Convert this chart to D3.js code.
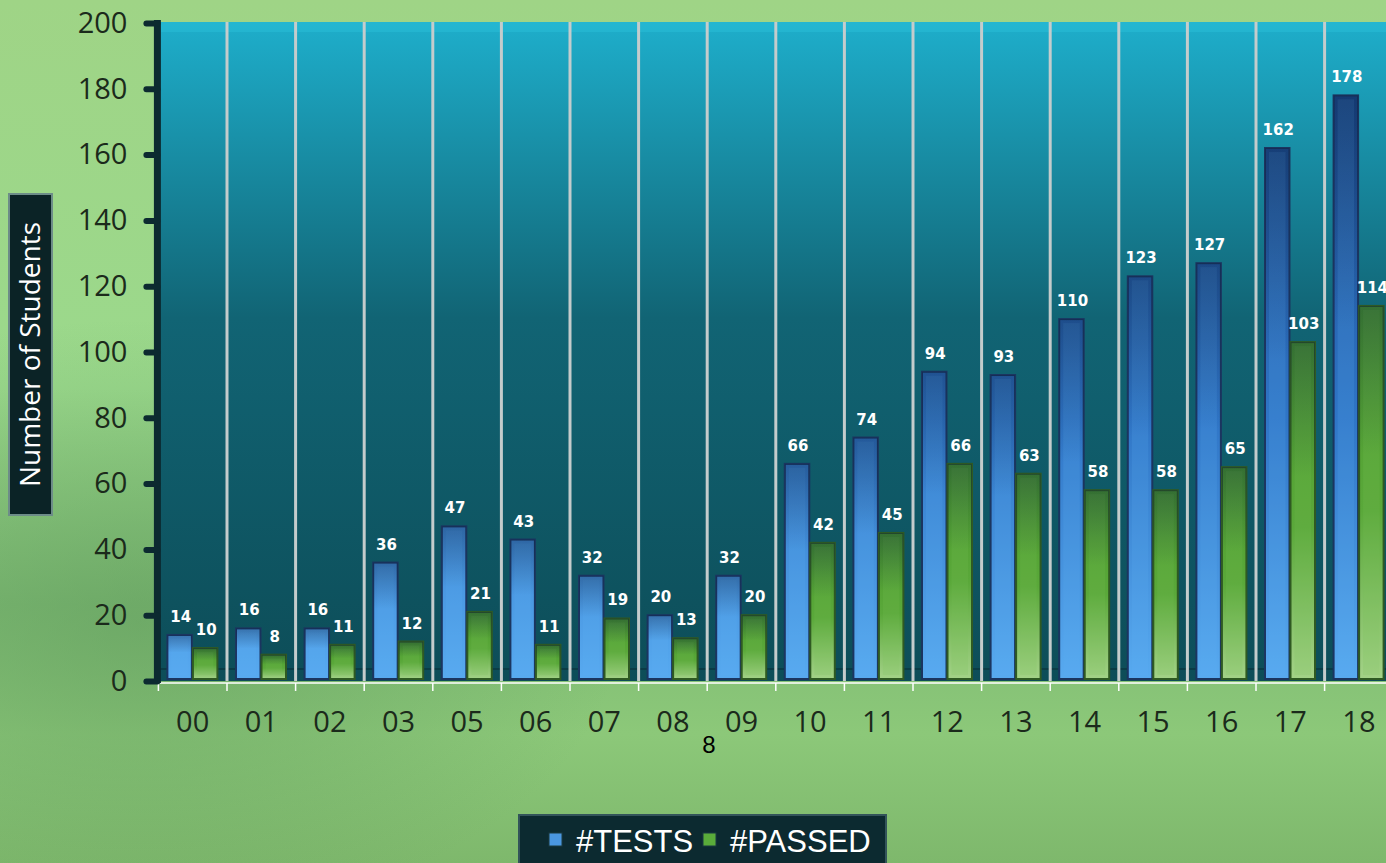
<!DOCTYPE html>
<html>
<head>
<meta charset="utf-8">
<script src="https://cdn.jsdelivr.net/npm/d3@7"></script>
<style>
  body { margin: 0; overflow: hidden; }
  svg { display: block; }
</style>
</head>
<body>
<svg id="chart" width="1386" height="863"></svg>
<script>
// data
const years = ['00', '01', '02', '03', '05', '06', '07', '08', '09', '10', '11', '12', '13', '14', '15', '16', '17', '18'];
const tests = [14, 16, 16, 36, 47, 43, 32, 20, 32, 66, 74, 94, 93, 110, 123, 127, 162, 178];
const passed = [10, 8, 11, 12, 21, 11, 19, 13, 20, 42, 45, 66, 63, 58, 58, 65, 103, 114];
const yTicks = [0, 20, 40, 60, 80, 100, 120, 140, 160, 180, 200];
const seriesNames = ['#TESTS', '#PASSED'];

const svg = d3.select('#chart');
const W = 1386, H = 863;
const defs = svg.append('defs');

// page background
const bg = defs.append('linearGradient').attr('id', 'bg').attr('x1', 0).attr('y1', 0).attr('x2', 0).attr('y2', 1);
bg.append('stop').attr('offset', '0%').attr('stop-color', '#9fd486');
bg.append('stop').attr('offset', '45%').attr('stop-color', '#9bd98c');
bg.append('stop').attr('offset', '70%').attr('stop-color', '#7fbc74');
bg.append('stop').attr('offset', '85%').attr('stop-color', '#8cc879');
bg.append('stop').attr('offset', '100%').attr('stop-color', '#7eb86c');
svg.append('rect').attr('width', W).attr('height', H).attr('fill', 'url(#bg)');
const blot = defs.append('radialGradient').attr('id', 'blot').attr('cx', 0.1).attr('cy', 0.72).attr('r', 0.35);
blot.append('stop').attr('offset', '0%').attr('stop-color', '#5f9a5c').attr('stop-opacity', 0.55);
blot.append('stop').attr('offset', '100%').attr('stop-color', '#5f9a5c').attr('stop-opacity', 0);
svg.append('rect').attr('width', W).attr('height', H).attr('fill', 'url(#blot)');

// scales
const x = d3.scaleBand().domain(years).range([158.4, 158.4 + 18 * 68.6]);
const x1 = d3.scaleBand().domain(seriesNames).range([9, 59]).paddingInner(0.04);
const y = d3.scaleLinear().domain([0, 200]).range([681, 23]);

const left = x.range()[0];
const right = x.range()[1];

// plot background
const plotGrad = defs.append('linearGradient').attr('id', 'plotGrad').attr('x1', 0).attr('y1', 0).attr('x2', 0).attr('y2', 1);
plotGrad.append('stop').attr('offset', '0%').attr('stop-color', '#1eaecb');
plotGrad.append('stop').attr('offset', '45%').attr('stop-color', '#116474');
plotGrad.append('stop').attr('offset', '100%').attr('stop-color', '#0d4d58');
svg.append('rect')
  .attr('x', left).attr('y', y(200) - 1)
  .attr('width', right - left).attr('height', y(0) - y(200) + 1)
  .attr('fill', 'url(#plotGrad)');
// light rim at top of the plot
svg.append('rect')
  .attr('x', left).attr('y', y(200) - 1)
  .attr('width', right - left).attr('height', 10)
  .attr('fill', '#2cc0da').attr('opacity', 0.45);
// floor line
svg.append('line')
  .attr('x1', left).attr('x2', right)
  .attr('y1', y(0) - 12).attr('y2', y(0) - 12)
  .attr('stroke', '#0a3c46').attr('stroke-width', 2);

// separators between categories
svg.append('g')
  .selectAll('line')
  .data(years.slice(1))
  .enter()
  .append('line')
  .attr('x1', d => x(d)).attr('x2', d => x(d))
  .attr('y1', y(200) - 1).attr('y2', y(0))
  .attr('stroke', '#c4cccc').attr('stroke-width', 3);

// bar gradients
const blueGrad = defs.append('linearGradient').attr('id', 'blueGrad')
  .attr('gradientUnits', 'userSpaceOnUse').attr('x1', 0).attr('y1', y(200)).attr('x2', 0).attr('y2', y(0));
blueGrad.append('stop').attr('offset', '0%').attr('stop-color', '#163f7e');
blueGrad.append('stop').attr('offset', '60%').attr('stop-color', '#2f75c6');
blueGrad.append('stop').attr('offset', '100%').attr('stop-color', '#58aaf0');
const greenGrad = defs.append('linearGradient').attr('id', 'greenGrad').attr('x1', 0).attr('y1', 0).attr('x2', 0).attr('y2', 1);
greenGrad.append('stop').attr('offset', '0%').attr('stop-color', '#4b9b2c');
greenGrad.append('stop').attr('offset', '55%').attr('stop-color', '#5aa83a');
greenGrad.append('stop').attr('offset', '100%').attr('stop-color', '#a3d287');
const shade = defs.append('linearGradient').attr('id', 'shade').attr('x1', 0).attr('y1', 0).attr('x2', 0).attr('y2', 1);
shade.append('stop').attr('offset', '0%').attr('stop-color', '#0a1e40').attr('stop-opacity', 0.35);
shade.append('stop').attr('offset', '40%').attr('stop-color', '#0a1e40').attr('stop-opacity', 0);

const rows = years.map((yr, i) => ({ year: yr, values: [
  { key: '#TESTS', value: tests[i] },
  { key: '#PASSED', value: passed[i] }
] }));

const groups = svg.append('g')
  .selectAll('g')
  .data(rows)
  .enter()
  .append('g')
  .attr('transform', d => 'translate(' + x(d.year) + ',0)');

const bars = groups.selectAll('g.bar')
  .data(d => d.values)
  .enter()
  .append('g')
  .attr('class', 'bar');

bars.append('rect')
  .attr('x', d => x1(d.key))
  .attr('y', d => y(d.value))
  .attr('width', x1.bandwidth())
  .attr('height', d => y(0) - 2 - y(d.value))
  .attr('fill', d => d.key === '#TESTS' ? 'url(#blueGrad)' : 'url(#greenGrad)')
  .attr('stroke', d => d.key === '#TESTS' ? '#1b3560' : '#2f5a22')
  .attr('stroke-width', 2);

bars.append('rect')
  .attr('x', d => x1(d.key) + 4)
  .attr('y', d => y(d.value) + 4)
  .attr('width', x1.bandwidth() - 8)
  .attr('height', d => Math.max(0, y(0) - 10 - y(d.value)))
  .attr('fill', d => d.key === '#TESTS' ? '#5fb0f4' : '#7cc45a')
  .attr('opacity', 0.18);

bars.append('rect')
  .attr('x', d => x1(d.key))
  .attr('y', d => y(d.value))
  .attr('width', x1.bandwidth())
  .attr('height', d => y(0) - 2 - y(d.value))
  .attr('fill', 'url(#shade)');

// value labels
bars.append('text')
  .attr('x', d => x1(d.key) + x1.bandwidth() / 2 + 1)
  .attr('y', d => y(d.value) - 13)
  .attr('text-anchor', 'middle')
  .attr('font-family', 'DejaVu Sans, sans-serif')
  .attr('font-weight', 'bold')
  .attr('font-size', 15)
  .attr('fill', '#ffffff')
  .text(d => d.value);

// x axis: baseline + ticks at boundaries
svg.append('line')
  .attr('x1', left).attr('x2', right)
  .attr('y1', y(0) + 2).attr('y2', y(0) + 2)
  .attr('stroke', '#ffffff').attr('stroke-width', 1.5);
svg.append('g')
  .selectAll('line')
  .data(years)
  .enter()
  .append('line')
  .attr('x1', d => x(d)).attr('x2', d => x(d))
  .attr('y1', y(0) + 2).attr('y2', y(0) + 10)
  .attr('stroke', '#ffffff').attr('stroke-width', 1.5);

const xAxis = svg.append('g')
  .attr('transform', 'translate(0,' + (y(0) + 2) + ')')
  .call(d3.axisBottom(x).tickSize(0).tickPadding(28));
xAxis.select('.domain').remove();
xAxis.selectAll('text')
  .attr('font-family', 'Open Sans, sans-serif')
  .attr('font-size', 29)
  .attr('fill', '#1b2a1b');

// y axis
svg.append('line')
  .attr('x1', left - 1).attr('x2', left - 1)
  .attr('y1', y(200) - 3).attr('y2', y(0) + 2)
  .attr('stroke', '#0c2a30').attr('stroke-width', 7);
const yAxis = svg.append('g')
  .attr('transform', 'translate(' + (left - 1) + ',0)')
  .call(d3.axisLeft(y).tickValues(yTicks).tickSize(11).tickPadding(19));
yAxis.select('.domain').remove();
yAxis.selectAll('.tick line')
  .attr('stroke', '#0c2a30').attr('stroke-width', 6).attr('stroke-linecap', 'round');
yAxis.selectAll('text')
  .attr('font-family', 'Open Sans, sans-serif')
  .attr('font-size', 29)
  .attr('fill', '#1b2a1b');

// y axis title
svg.append('rect')
  .attr('x', 9).attr('y', 194)
  .attr('width', 43).attr('height', 321)
  .attr('fill', '#0b2326').attr('stroke', '#6d8c88').attr('stroke-width', 2);
svg.append('text')
  .attr('transform', 'translate(40,' + (194 + 321 / 2) + ') rotate(-90)')
  .attr('text-anchor', 'middle')
  .attr('font-family', 'Open Sans, sans-serif')
  .attr('font-size', 28)
  .attr('fill', '#ffffff')
  .text('Number of Students');

// stray "8" under the axis
svg.append('text')
  .attr('x', 709).attr('y', 753)
  .attr('text-anchor', 'middle')
  .attr('font-family', 'Liberation Sans, Arial, sans-serif')
  .attr('font-size', 24)
  .attr('fill', '#000000')
  .text('8');

// legend
const legend = svg.append('g');
legend.append('rect')
  .attr('x', 519).attr('y', 815)
  .attr('width', 367).attr('height', 56)
  .attr('fill', '#0c2a30').attr('stroke', '#33545a').attr('stroke-width', 2);
const legendItems = [
  { name: seriesNames[0], color: '#4a97e0', x: 549 },
  { name: seriesNames[1], color: '#5aac3a', x: 703 }
];
legend.selectAll('rect.sw')
  .data(legendItems)
  .enter()
  .append('rect')
  .attr('class', 'sw')
  .attr('x', d => d.x).attr('y', 833)
  .attr('width', 13).attr('height', 13)
  .attr('fill', d => d.color)
  .attr('stroke', '#1b3a40');
legend.selectAll('text')
  .data(legendItems)
  .enter()
  .append('text')
  .attr('x', d => d.x + 27).attr('y', 852)
  .attr('font-family', 'Liberation Sans Narrow, Liberation Sans, sans-serif')
  .attr('font-size', 31)
  .attr('fill', '#ffffff')
  .text(d => d.name);
</script>
</body>
</html>
